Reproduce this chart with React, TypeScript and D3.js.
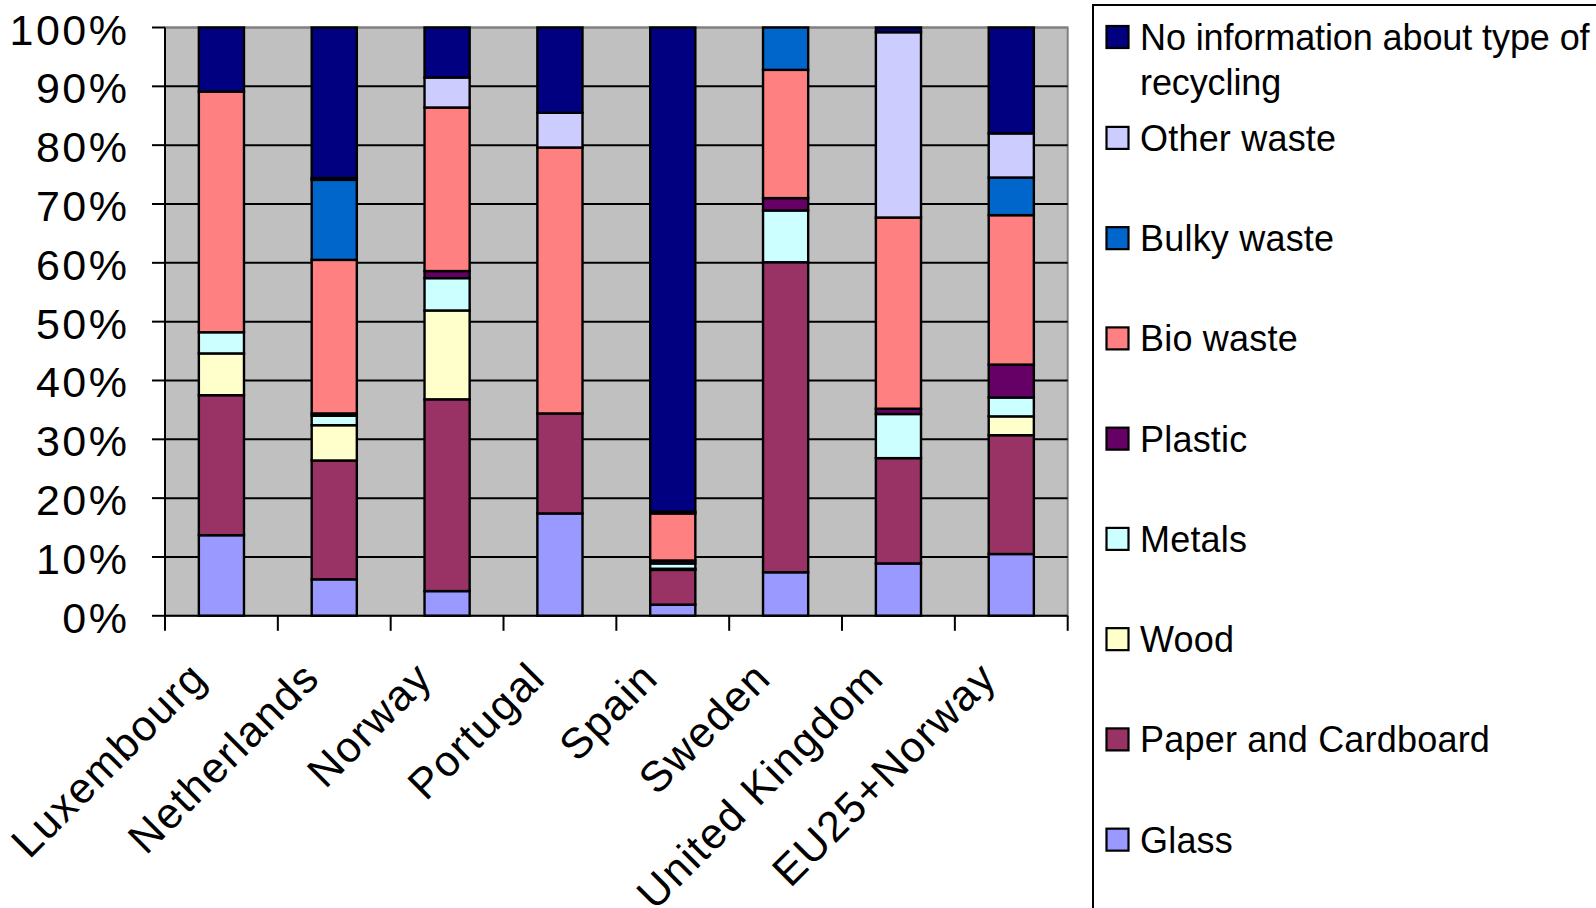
import React, { useEffect } from "react";
import * as d3 from "d3";

const categories = ["Luxembourg", "Netherlands", "Norway", "Portugal", "Spain", "Sweden", "United Kingdom", "EU25+Norway"];

const glass = [13.7, 6.2, 4.2, 17.4, 1.9, 7.4, 8.9, 10.5];
const paper = [23.8, 20.2, 32.6, 17.0, 5.9, 52.7, 17.9, 20.2];
const wood = [7.1, 6.0, 15.1, 0, 0.2, 0, 0, 3.2];
const metals = [3.6, 1.6, 5.5, 0, 0.9, 8.8, 7.5, 3.2];
const plastic = [0, 0.4, 1.2, 0, 0.5, 2.1, 0.9, 5.6];
const bio = [40.9, 26.1, 27.8, 45.2, 8.0, 21.8, 32.5, 25.4];
const bulky = [0, 13.6, 0, 0, 0, 7.2, 0, 6.4];
const other = [0, 0.3, 5.1, 5.9, 0.3, 0, 31.5, 7.5];
const noInfo = [10.9, 25.6, 8.5, 14.5, 82.3, 0, 0.8, 18.0];

const seriesNames = [
  "Glass",
  "Paper and Cardboard",
  "Wood",
  "Metals",
  "Plastic",
  "Bio waste",
  "Bulky waste",
  "Other waste",
  "No information about type of recycling",
];
const seriesValues = [glass, paper, wood, metals, plastic, bio, bulky, other, noInfo];
const seriesColors = ["#9999FF", "#993366", "#FFFFCC", "#CCFFFF", "#660066", "#FF8080", "#0066CC", "#CCCCFF", "#000080"];

const yTicks = [0, 10, 20, 30, 40, 50, 60, 70, 80, 90, 100];

const FONT = "'Liberation Sans', Arial, Helvetica, sans-serif";

export default function App() {
  useEffect(() => {
    document.body.style.margin = "0";
    document.body.style.overflow = "hidden";
  }, []);

  const W = 1596;
  const H = 908;
  const left = 165;
  const right = 1067.7;
  const top = 27.5;
  const bottom = 615.8;

  const x = d3.scaleBand<string>().domain(categories).range([left, right]).paddingInner(0.6).paddingOuter(0.3);
  const y = d3.scaleLinear().domain([0, 100]).range([bottom, top]);

  const rows = categories.map((c, i) => {
    const r: any = { category: c };
    seriesNames.forEach((s, k) => (r[s] = seriesValues[k][i]));
    return r;
  });
  const stacked = d3.stack<any>().keys(seriesNames)(rows);

  const step = x.step();
  const x0 = x.range()[0];
  const boundaries = d3.range(categories.length + 1).map((i) => x0 + i * step);

  const legendOrder = seriesNames.map((_, i) => seriesNames.length - 1 - i);
  const legendX = 1093;
  const legendFont = 36;
  const axisLS = 2.5;
  const catLS = 1.5;

  return (
    <svg width={W} height={H} style={{ position: "absolute", left: 0, top: 0, background: "#fff" }} fontFamily={FONT}>
      <rect x={left} y={top} width={right - left} height={bottom - top} fill="#C0C0C0" stroke="#808080" strokeWidth={2} />
      {yTicks.filter((t) => t > 0 && t < 100).map((t) => (
        <line key={t} x1={left} x2={right} y1={y(t)} y2={y(t)} stroke="#000" strokeWidth={2} />
      ))}
      <line x1={left} x2={right} y1={y(100)} y2={y(100)} stroke="#808080" strokeWidth={2} />

      {stacked.map((layer, k) => (
        <g key={layer.key}>
          {layer.map((d, i) => {
            const h = y(d[0]) - y(d[1]);
            if (h <= 0) return null;
            return (
              <rect
                key={i}
                x={x(categories[i])}
                y={y(d[1])}
                width={x.bandwidth()}
                height={h}
                fill={seriesColors[k]}
                stroke="#000"
                strokeWidth={2.4}
              />
            );
          })}
        </g>
      ))}

      <line x1={left} x2={left} y1={top} y2={bottom} stroke="#000" strokeWidth={2} />
      <line x1={left} x2={right} y1={bottom} y2={bottom} stroke="#000" strokeWidth={2} />
      {yTicks.map((t) => (
        <g key={t}>
          <line x1={left - 13} x2={left} y1={y(t)} y2={y(t)} stroke="#000" strokeWidth={2} />
          <text x={127 + axisLS} y={y(t) + 17} textAnchor="end" fontSize={43} fill="#000" style={{ letterSpacing: `${axisLS}px` }}>
            {t}%
          </text>
        </g>
      ))}
      {boundaries.map((bx, i) => (
        <line key={i} x1={bx} x2={bx} y1={bottom} y2={bottom + 15} stroke="#000" strokeWidth={2} />
      ))}
      {categories.map((c) => {
        const cx = (x(c) as number) + x.bandwidth() / 2;
        const ax = cx - 14 + catLS;
        const ay = bottom + 66 - catLS;
        return (
          <text
            key={c}
            x={ax}
            y={ay}
            textAnchor="end"
            fontSize={43}
            fill="#000"
            style={{ letterSpacing: `${catLS}px` }}
            transform={`rotate(-45 ${ax} ${ay})`}
          >
            {c}
          </text>
        );
      })}

      <rect x={legendX} y={5} width={700} height={1000} fill="#fff" stroke="#000" strokeWidth={2} />
      {legendOrder.map((k, j) => {
        const cy = j === 0 ? 37.5 : 138.4 + (j - 1) * 100.25;
        const name = seriesNames[k];
        const lines = j === 0 ? ["No information about type of", "recycling"] : [name];
        const ls = j === 0 ? "-0.1px" : "0.2px";
        return (
          <g key={name}>
            <rect x={1106.5} y={cy - 11.5} width={22} height={22} fill={seriesColors[k]} stroke="#000" strokeWidth={2.2} />
            {lines.map((ln, li) => (
              <text key={li} x={1140} y={cy + 12.5 + li * 44.8} fontSize={legendFont} fill="#000" style={{ letterSpacing: ls }}>
                {ln}
              </text>
            ))}
          </g>
        );
      })}
    </svg>
  );
}
